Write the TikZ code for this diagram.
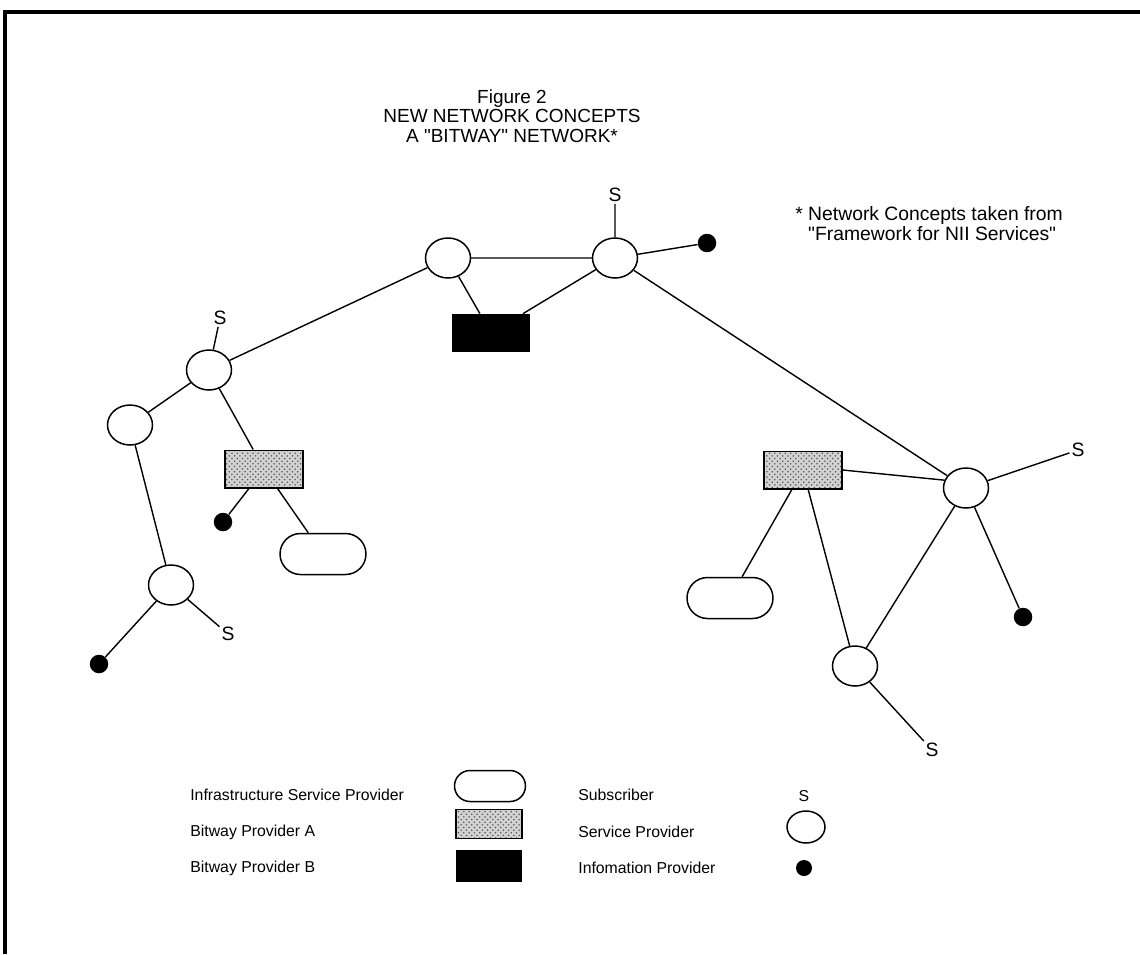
\documentclass[tikz,border=0pt]{standalone}
\usepackage{fontspec}
\setmainfont{Liberation Sans}[Ligatures=TeXOff]
\usetikzlibrary{shapes.geometric,shapes.misc,patterns}

\tikzset{
  sprov/.style={ellipse,draw,line width=0.85pt,minimum width=0.9cm,
    minimum height=0.8cm,inner sep=0pt},
  infra/.style={rounded rectangle,draw,line width=0.85pt,minimum width=1.72cm,
    minimum height=0.82cm,inner sep=0pt},
  bwa/.style={rectangle,draw,line width=0.85pt,preaction={fill=gray!35},
    pattern=crosshatch dots,pattern color=gray!70!black,
    minimum width=1.56cm,minimum height=0.75cm,inner sep=0pt},
  bwb/.style={rectangle,fill=black,minimum width=1.58cm,
    minimum height=0.76cm,inner sep=0pt},
  info/.style={circle,fill=black,minimum size=0.37cm,inner sep=0pt},
  subs/.style={font=\fontsize{11}{11}\selectfont,inner sep=1pt},
  link/.style={line width=0.8pt},
  legtext/.style={anchor=west,font=\fontsize{9}{9}\selectfont,inner sep=0pt},
}

\begin{document}
\begin{tikzpicture}[x=0.02cm,y=-0.02cm]
  % page in pixel units, y running down
  \useasboundingbox (0,0) rectangle (1140,954);
  \draw[line width=1.8pt] (5,954)--(5,12)--(1140,12);

  \node[align=center,font=\fontsize{10.8}{11.2}\selectfont] (title) at (512,116)
    {Figure 2\\NEW NETWORK CONCEPTS\\A "BITWAY" NETWORK*};
  \node[anchor=north west,align=left,inner sep=0pt,
    font=\fontsize{11}{11.4}\selectfont] (note) at (795,206)
    {* Network Concepts taken from\\\phantom{* }"Framework for NII Services"};

  % top of the network
  \node[sprov] (e1) at (448,258) {};
  \node[sprov] (e2) at (615,258) {};
  \node[bwb] (bb) at (491,333) {};
  \node[subs] (s1) at (615,195) {S};
  \node[info] (d1) at (707,243) {};

  % left branch
  \node[sprov] (e3) at (209,370) {};
  \node[subs] (s2) at (220,318) {S};
  \node[sprov] (e4) at (130,425) {};
  \node[bwa] (ga) at (264,469) {};
  \node[info] (d2) at (223,522) {};
  \node[infra] (pa) at (323,554) {};
  \node[sprov] (e5) at (171,585) {};
  \node[info] (d3) at (99,664) {};
  \node[subs] (s3) at (228,634) {S};

  % right branch
  \node[bwa] (gb) at (803,470) {};
  \node[sprov] (e7) at (966,488) {};
  \node[subs] (s4) at (1078,450) {S};
  \node[infra] (pb) at (730,598) {};
  \node[sprov] (e6) at (855,666) {};
  \node[info] (d4) at (1023,617) {};
  \node[subs] (s5) at (932,750) {S};

  \draw[link] (e1)--(e2) (e1)--(bb) (e2)--(bb) (s1)--(e2) (e2)--(d1);
  \draw[link] (e1)--(e3) (s2)--(e3) (e3)--(e4) (e3)--(ga);
  \draw[link] (ga)--(d2) (ga)--(pa) (e4)--(e5) (e5)--(d3) (e5)--(s3);
  \draw[link] (e2)--(e7) (gb.east)--(e7.160) (e7)--(s4) (e7)--(d4) (e7)--(e6);
  \draw[link] (gb)--(pb) (gb)--(e6) (e6)--(s5);

  % legend
  \node[legtext] (l1) at (190,795) {Infrastructure Service Provider};
  \node[legtext] (l2) at (190,832) {Bitway Provider A};
  \node[legtext] (l3) at (190,868) {Bitway Provider B};
  \node[infra,minimum width=1.42cm,minimum height=0.62cm] (k1) at (490,786) {};
  \node[bwa,minimum width=1.32cm,minimum height=0.58cm] (k2) at (489,824) {};
  \node[bwb,minimum width=1.32cm,minimum height=0.64cm] (k3) at (489,866) {};
  \node[legtext] (l4) at (578,795) {Subscriber};
  \node[legtext] (l5) at (578,832) {Service Provider};
  \node[legtext] (l6) at (578,868) {Infomation Provider};
  \node[subs,font=\fontsize{9}{9}\selectfont] (k4) at (804,796) {S};
  \node[sprov,minimum width=0.76cm,minimum height=0.64cm] (k5) at (806,827) {};
  \node[info,minimum size=0.32cm] (k6) at (804,868) {};
\end{tikzpicture}
\end{document}
